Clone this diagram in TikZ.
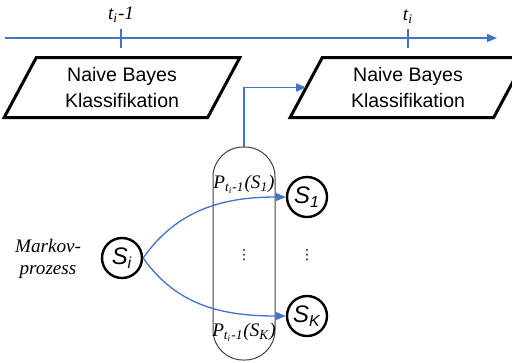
\documentclass[tikz,border=0pt]{standalone}
\usepackage{fontspec}
\setmainfont{Liberation Serif}
\setsansfont{Liberation Sans}
\newfontfamily\symfont{DejaVu Sans}
\usetikzlibrary{shapes.geometric, positioning, arrows.meta}
\definecolor{axisblue}{RGB}{68,114,196}

\begin{document}
\begin{tikzpicture}[x=0.5bp, y=-0.5bp,
    nbbox/.style={draw, line width=1.5bp, trapezium, trapezium left angle=62, trapezium right angle=118, trapezium stretches=true, minimum width=111bp, minimum height=30bp, align=center, inner sep=0pt, outer sep=0pt, font=\sffamily\fontsize{9.8}{13}\selectfont},
    zustand/.style={draw, circle, line width=1.2bp, minimum size=20bp, inner sep=0pt, font=\sffamily\itshape\fontsize{12}{14}\selectfont},
    prob/.style={font=\itshape\fontsize{9.6}{11}\selectfont},
    arrow/.style={-{Triangle[length=5bp,width=4bp]}, axisblue, line width=0.65bp},
    tmark/.style={axisblue, line width=0.65bp}
]
    \useasboundingbox (0,0) rectangle (512,362);

    % Zeitachse
    \coordinate (t0) at (5,38);
    \coordinate (tend) at (497,38);
    \draw [arrow] (t0) -- (tend);
    \draw [tmark] (121,29) -- (121,48);
    \draw [tmark] (408,29) -- (408,48);
    \node (tlab1) [prob] at (121,15) {t\textsubscript{i}-1};
    \node (tlab2) [prob] at (408,17) {t\textsubscript{i}};

    % Klassifikation
    \node (nb1) [nbbox, minimum width=118bp] at (122,87.5) {Naive Bayes\\Klassifikation};
    \node (nb2) [nbbox, minimum width=118bp] at (408,87.5) {Naive Bayes\\Klassifikation};

    % Markov-Prozess
    \node (si) [zustand] at (122,258) {S\textsubscript{i}};
    \node (s1) [zustand] at (307,197) {S\textsubscript{1}};
    \node (sk) [zustand] at (307,316) {S\textsubscript{K}};
    \node (mp) [prob, align=center] at (48,259) {Markov-\\prozess};

    \node (pbox) [draw=black!75, line width=0.5bp, rounded corners=15bp, minimum width=31bp, minimum height=106.5bp] at (244,253.5) {};
    \node (p1) [prob, below=11bp of pbox.north] {P\textsubscript{t\textsubscript{i}-1}(S\textsubscript{1})};
    \node (pk) [prob, above=6bp of pbox.south] {P\textsubscript{t\textsubscript{i}-1}(S\textsubscript{K})};
    \node (d1) [font=\symfont\fontsize{7}{8}\selectfont] at (244,255) {⋮};
    \node (d2) [font=\symfont\fontsize{7}{8}\selectfont] at (307,255) {⋮};

    \path [arrow] (nb1) -- (si);
    \draw [arrow] (si.east) to[out=55, in=180] (s1.west);
    \draw [arrow] (si.east) to[out=-55, in=180] (sk.west);
    \draw [arrow] (pbox.north) |- (nb2.west);
\end{tikzpicture}
\end{document}
